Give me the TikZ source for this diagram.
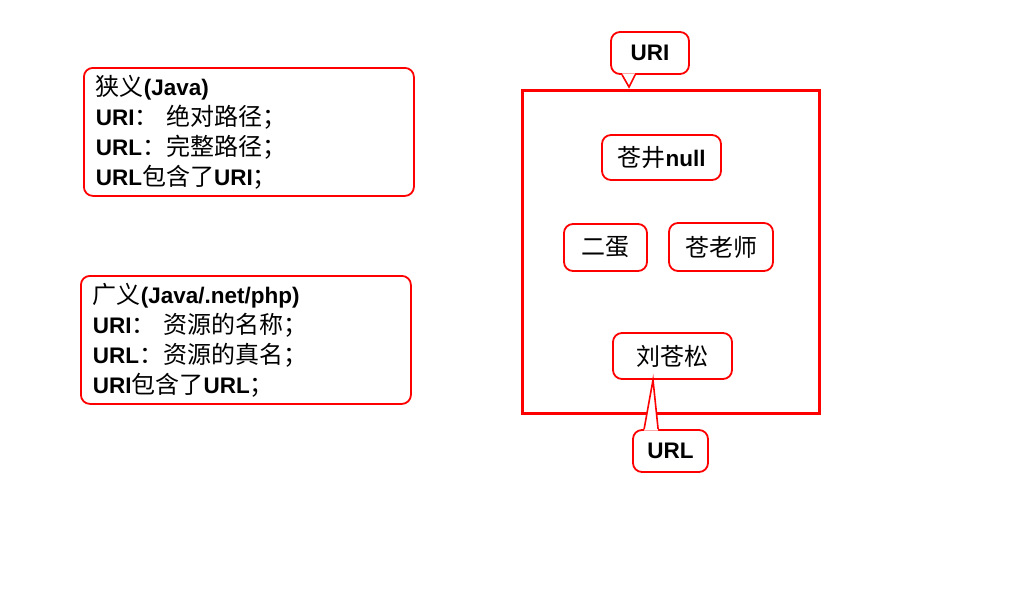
\documentclass[tikz,border=0pt]{standalone}
\usepackage{fontspec}
\setmainfont{Liberation Sans}
\newfontfamily\cjkfont{Noto Sans CJK SC}
\newcommand\zh[1]{{\cjkfont\mdseries\fontsize{24}{30}\selectfont #1}}
\definecolor{boxred}{RGB}{255,0,0}

\begin{document}
\begin{tikzpicture}[x=1pt,y=-1pt,
  every node/.style={font=\fontsize{22.5}{30}\selectfont\bfseries},
  tag/.style={draw=boxred, line width=1.8pt, rounded corners=9pt, fill=white, inner sep=0pt},
  notebox/.style={tag, align=left, inner xsep=12pt, anchor=north west,
                  minimum width=330pt, minimum height=128pt, text width=306pt},
  domainbox/.style={draw=boxred, line width=3pt, inner sep=0pt},
  pointer/.style={draw=boxred, line width=1.6pt}
]
% canvas
\fill[white] (0,0) rectangle (1024,595);
\useasboundingbox (0,0) rectangle (1024,595);

% definition notes
\node[notebox] (narrow) at (83,67)
  {\zh{狭义}(Java)\\
   URI\zh{：} \zh{绝对路径；}\\
   URL\zh{：完整路径；}\\
   URL\zh{包含了}URI\zh{；}};
\node[notebox] (broad) at (80,275)
  {\zh{广义}(Java/.net/php)\\
   URI\zh{：} \zh{资源的名称；}\\
   URL\zh{：资源的真名；}\\
   URI\zh{包含了}URL\zh{；}};

% resource space
\node[domainbox, minimum width=297pt, minimum height=323pt] (domain) at (670.5,251.5) {};

\node[tag, minimum width=119pt, minimum height=45pt] (cjn) at (661.5,157.5) {\zh{苍井}null};
\node[tag, minimum width=83pt, minimum height=47pt] (ed) at (605.5,247.5) {\zh{二蛋}};
\node[tag, minimum width=104pt, minimum height=48pt] (clsh) at (721,247) {\zh{苍老师}};
\node[tag, minimum width=119pt, minimum height=46pt] (lcs) at (672.5,356) {\zh{刘苍松}};

% URI callout
\node[tag, minimum width=78pt, minimum height=42pt] (uri) at (650,53) {URI};
\coordinate (uritip) at (629,87);
\fill[white] ([xshift=12pt,yshift=1.6pt]uri.south west) -- (uritip)
  -- ([xshift=25pt,yshift=1.6pt]uri.south west) -- cycle;
\draw[pointer] ([xshift=12pt]uri.south west) -- (uritip) -- ([xshift=25pt]uri.south west);

% URL callout
\node[tag, minimum width=75pt, minimum height=42pt] (url) at (670.5,451) {URL};
\coordinate (urltip) at ([xshift=-19.5pt]lcs.south);
\fill[white] ([xshift=12pt,yshift=-1.6pt]url.north west) -- (urltip)
  -- ([xshift=26pt,yshift=-1.6pt]url.north west) -- cycle;
\draw[pointer] ([xshift=12pt]url.north west) -- (urltip) -- ([xshift=26pt]url.north west);
\end{tikzpicture}
\end{document}
